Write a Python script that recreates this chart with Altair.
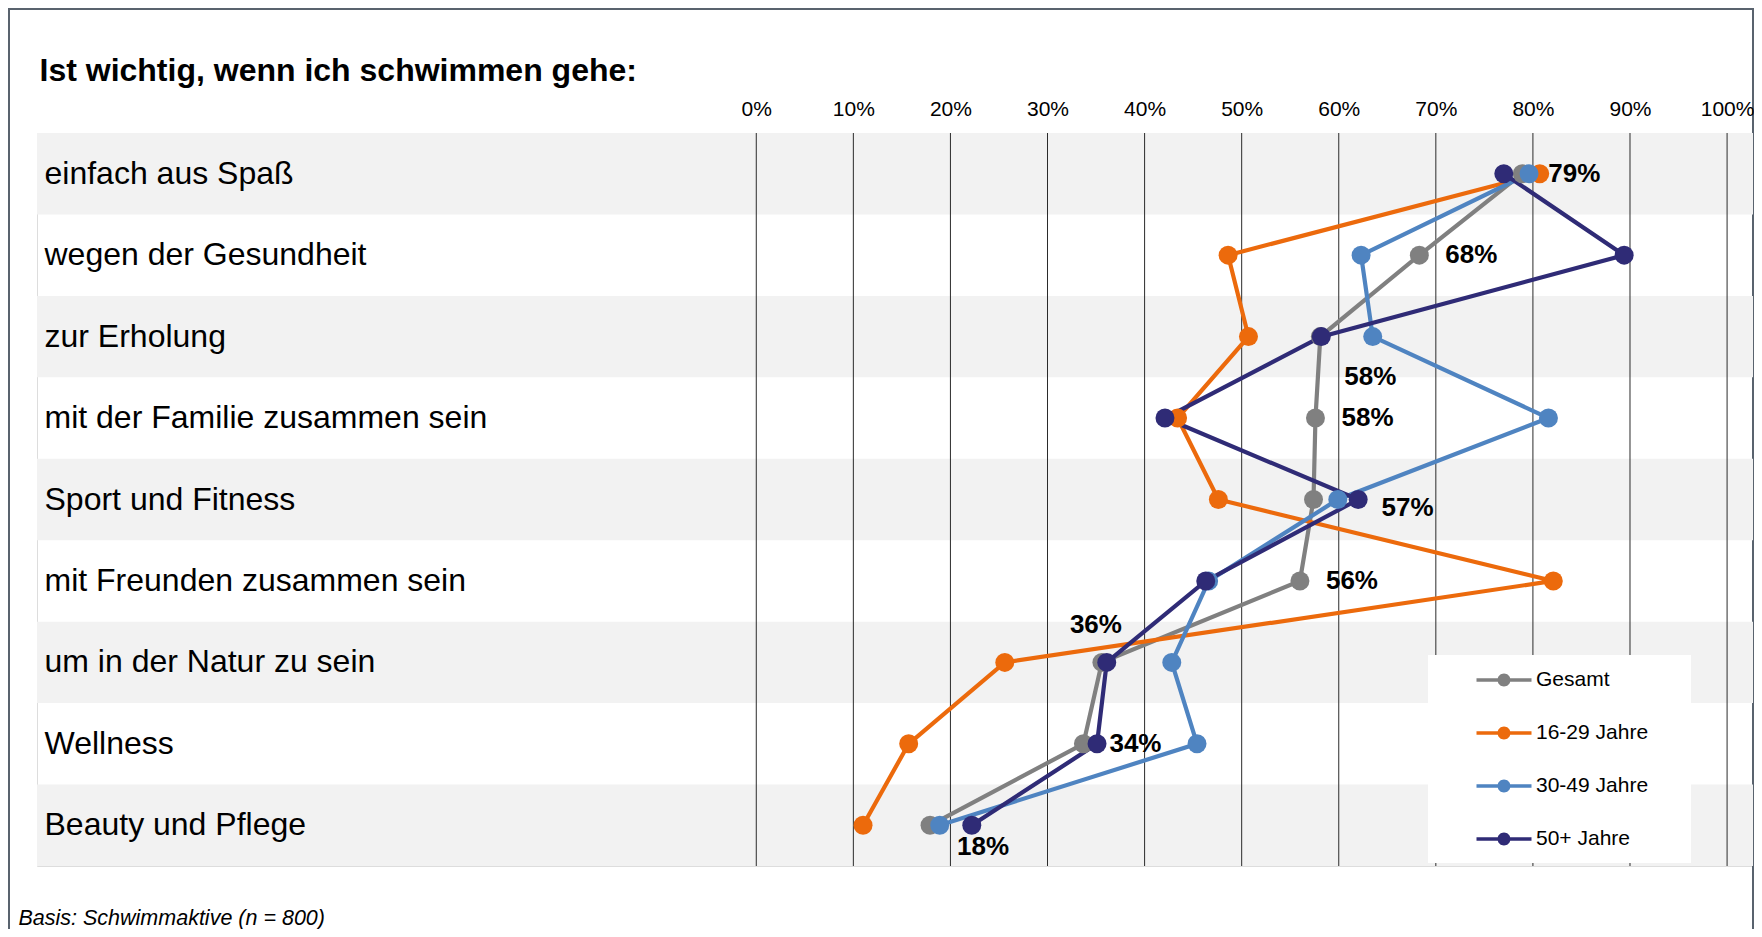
import altair as alt
import pandas as pd

# ---------------- data ----------------
categories = [
    "einfach aus Spaß",
    "wegen der Gesundheit",
    "zur Erholung",
    "mit der Familie zusammen sein",
    "Sport und Fitness",
    "mit Freunden zusammen sein",
    "um in der Natur zu sein",
    "Wellness",
    "Beauty und Pflege",
]
series_names = ["Gesamt", "16-29 Jahre", "30-49 Jahre", "50+ Jahre"]
gesamt = [78.9, 68.3, 58.1, 57.6, 57.4, 56.0, 35.6, 33.7, 17.9]
jahre_16_29 = [80.7, 48.6, 50.7, 43.4, 47.6, 82.1, 25.6, 15.7, 11.0]
jahre_30_49 = [79.6, 62.3, 63.5, 81.6, 59.9, 46.6, 42.8, 45.4, 18.9]
jahre_50_plus = [77.0, 89.4, 58.2, 42.1, 62.0, 46.3, 36.1, 35.1, 22.2]
gesamt_labels = [79, 68, 58, 58, 57, 56, 36, 34, 18]
tick_values = [0, 10, 20, 30, 40, 50, 60, 70, 80, 90, 100]
title_text = "Ist wichtig, wenn ich schwimmen gehe:"
footer_text = "Basis: Schwimmaktive (n = 800)"

# ---------------- styles ----------------
series_colors = ["#808080", "#EC6A0C", "#4F84C1", "#2F2B76"]
FONT = "Liberation Sans"
W, H = 1716, 733

# label placement (pixel offsets dx, dy) per row of the Gesamt labels
placements = {
    "rechts": (26, 0),
    "unten_rechts": (24, 40),
    "rechts_tief": (68, 8),
    "oben_links": (-32, -37),
    "unten": (27, 22),
}
label_placement = ["rechts", "rechts", "unten_rechts", "rechts", "rechts_tief",
                   "rechts", "oben_links", "rechts", "unten"]

# ---------------- tables ----------------
rows = []
for name, vals in zip(series_names, [gesamt, jahre_16_29, jahre_30_49, jahre_50_plus]):
    for i, (c, v) in enumerate(zip(categories, vals)):
        rows.append({"kategorie": c, "gruppe": name, "wert": v, "pos": i})
df = pd.DataFrame(rows)

band_df = pd.DataFrame({"kategorie": categories, "pos": list(range(len(categories)))})
band_df = band_df[band_df["pos"] % 2 == 0]
tick_df = pd.DataFrame({"wert": tick_values})
label_df = pd.DataFrame({
    "kategorie": categories,
    "wert": gesamt,
    "txt": [f"{v}%" for v in gesamt_labels],
    "platz": label_placement,
})

# ---------------- scales / axes ----------------
x_scale = alt.Scale(domain=[-74.09, 102.67], nice=False, zero=False)
y_scale = alt.Scale(type="band", domain=categories, paddingInner=0, paddingOuter=0)
color_scale = alt.Scale(domain=series_names, range=series_colors)

x_axis = alt.Axis(
    orient="top", values=tick_values, labelExpr="datum.value + '%'",
    domain=False, ticks=False, tickSize=0, grid=False,
    labelFont=FONT, labelFontSize=21, labelColor="#000000",
    labelPadding=18, labelBaseline="alphabetic", labelFlush=False, labelOverlap=False,
    title=title_text, titleFont=FONT, titleFontSize=32, titleFontWeight="bold",
    titleColor="#000000", titleAlign="left", titleBaseline="alphabetic",
    titleAngle=0, titleX=2, titleY=-53, zindex=1,
)
y_axis = alt.Axis(
    orient="left", domain=False, ticks=False, tickSize=0, grid=False,
    labelAlign="left", labelBaseline="middle", labelPadding=-7,
    labelFont=FONT, labelFontSize=32, labelColor="#000000", labelLimit=900,
    title=footer_text, titleFont=FONT, titleFontSize=21.5, titleFontStyle="italic",
    titleFontWeight="normal", titleColor="#000000", titleAngle=0, titleAlign="left",
    titleBaseline="alphabetic", titleX=-19, titleY=791, zindex=1,
)


def X(field):
    return alt.X(f"{field}:Q", scale=x_scale, axis=x_axis)


Y = alt.Y("kategorie:N", scale=y_scale, axis=y_axis)

# legend symbol: line with a dot, drawn as filled shapes (unit = 11 px)
legend_symbol = (
    "M-2.5,-0.15H-0.5V0.15H-2.5Z "
    "M0.5,-0.15H2.5V0.15H0.5Z "
    "M-0.59,0A0.59,0.59 0 1,1 0.59,0A0.59,0.59 0 1,1 -0.59,0Z"
)
legend = alt.Legend(
    title="\u00a0", titleOrient="right", titlePadding=29, titleFontSize=21,
    orient="none", legendX=1391, legendY=522, direction="vertical",
    symbolType=legend_symbol, symbolSize=484, symbolStrokeWidth=0, symbolOpacity=1,
    symbolOffset=51, labelOffset=21, labelFont=FONT, labelFontSize=21,
    labelColor="#000000", labelLimit=400, padding=14, rowPadding=32,
    fillColor="#FFFFFF",
)

# ---------------- layers ----------------
border = alt.Chart(pd.DataFrame({"k": [0]})).mark_rect(
    fill="transparent", stroke="#59636E", strokeWidth=2
).encode(x=alt.value(-28), x2=alt.value(1716), y=alt.value(-124), y2=alt.value(860))

bands = alt.Chart(band_df).mark_rect(color="#F2F2F2").encode(y=Y)

rules = alt.Chart(tick_df).mark_rule(color="#2b2b2b", strokeWidth=1).encode(x=X("wert"))

line_layers = []
for name, col in zip(series_names, series_colors):
    line_layers.append(
        alt.Chart(df).transform_filter(
            alt.FieldEqualPredicate(field="gruppe", equal=name)
        ).mark_line(strokeWidth=4.2, color=col).encode(
            x=X("wert"), y=Y, order=alt.Order("pos:Q"),
        )
    )

points = alt.Chart(df).mark_point(filled=True, size=360, opacity=1).encode(
    x=X("wert"), y=Y,
    fill=alt.Fill("gruppe:N", scale=color_scale, legend=legend),
)

text_layers = []
for key, (dx, dy) in placements.items():
    text_layers.append(
        alt.Chart(label_df).transform_filter(
            alt.FieldEqualPredicate(field="platz", equal=key)
        ).mark_text(
            align="left", baseline="middle", dx=dx, dy=dy,
            font=FONT, fontSize=26, fontWeight="bold", color="#000000",
        ).encode(x=X("wert"), y=Y, text="txt:N")
    )

chart = alt.layer(border, bands, rules, *line_layers, points, *text_layers).properties(
    width=W, height=H,
    autosize=alt.AutoSizeParams(type="none"),
    padding={"left": 29, "top": 125, "right": 1, "bottom": 63},
).configure_view(stroke=None).configure(background="#FFFFFF")

chart.save("out.html", embed_options={"renderer": "svg", "actions": False})
